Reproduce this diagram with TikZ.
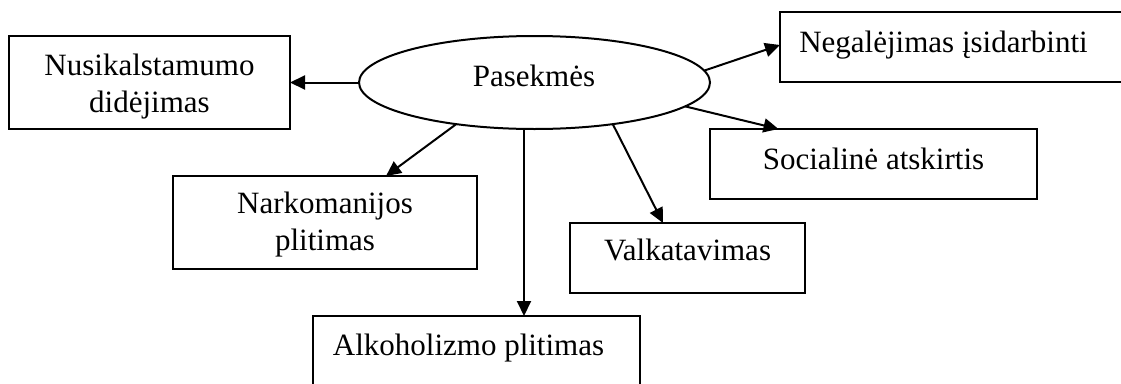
\documentclass[tikz,border=0pt]{standalone}
\usepackage{fontspec}
\setmainfont{Liberation Serif}
\usetikzlibrary{arrows.meta,shapes.geometric}
\tikzset{
  box/.style={draw, line width=2pt, inner sep=0pt, outer sep=0pt, anchor=north west},
  oval/.style={draw, ellipse, line width=2pt, inner sep=0pt, outer sep=0pt},
  txt/.style={font=\fontsize{31}{37}\selectfont, inner sep=0pt, anchor=base, align=center},
  arr/.style={-{Triangle[length=15pt,width=14pt]}, line width=2pt},
}
\begin{document}
\begin{tikzpicture}[x=1pt, y=-1pt]
    \useasboundingbox (0,0) rectangle (1121,383);
    \clip (0,0) rectangle (1121,383);
    \node[oval, minimum width=351pt, minimum height=93pt] (pas) at (534.5,82.5) {};
    \node[txt] (past) at (534,86) {Pasekmės};
    \node[box, minimum width=281pt, minimum height=93pt] (nus) at (9,36) {};
    \node[txt] (nust) at (149.5,112) {Nusikalstamumo\\didėjimas};
    \node[box, minimum width=360pt, minimum height=70pt] (neg) at (780,12) {};
    \node[txt] (negt) at (943.5,52) {Negalėjimas įsidarbinti};
    \node[box, minimum width=327pt, minimum height=70pt] (soc) at (710,129) {};
    \node[txt] (soct) at (873.5,169) {Socialinė atskirtis};
    \node[box, minimum width=304pt, minimum height=93pt] (nar) at (173,176) {};
    \node[txt] (nart) at (325,250) {Narkomanijos\\plitimas};
    \node[box, minimum width=235pt, minimum height=70pt] (val) at (570,223) {};
    \node[txt] (valt) at (687.5,260) {Valkatavimas};
    \node[box, minimum width=327pt, minimum height=90pt] (alk) at (313,316) {};
    \node[txt] (alkt) at (468.5,355) {Alkoholizmo plitimas};
    \coordinate (alkin) at ([xshift=47.5pt]alk.north);
    \draw[arr] (pas.west) -- (nus.east);
    \draw[arr] (pas.4) -- ([yshift=2pt]neg.west);
    \draw[arr] (pas.-9) -- ([xshift=-95pt]soc.north);
    \draw[arr] (pas.-28) -- ([xshift=-24.5pt]val.north);
    \draw[arr] (pas.208) -- ([xshift=61pt]nar.north);
    \draw[arr] (pas.south -| alkin) -- (alkin);
\end{tikzpicture}
\end{document}
